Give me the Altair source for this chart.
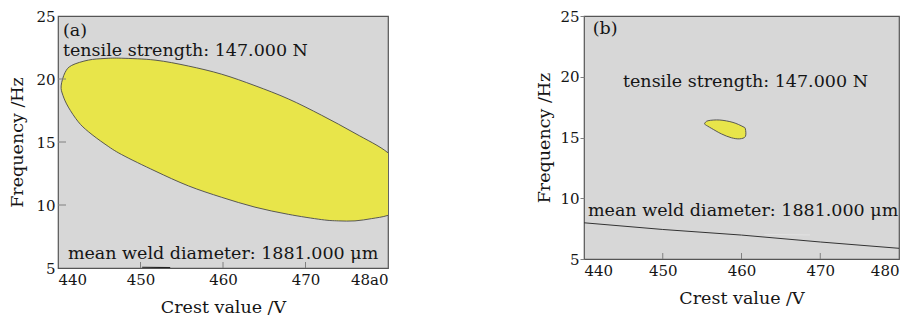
import altair as alt
import pandas as pd

# ---------------- data ----------------
x_ticks = [440, 450, 460, 470, 480]
y_ticks = [5, 10, 15, 20, 25]
x_labels_a = ["440", "450", "460", "470", "48a0"]
x_labels_b = ["440", "450", "460", "470", "480"]

# panel (a): outline of the feasible region, walked clockwise from the left tip
# (the last few points past 480 lie outside the frame and are clipped away)
a_poly_x = [440.38, 440.85, 441.66, 443.68, 445.70, 447.72, 451.76, 455.80, 459.84,
            463.88, 467.92, 471.96, 476.0, 480.0, 481.75, 482.4, 482.62, 482.15,
            480.0, 478.02, 476.0, 473.98, 471.96, 467.92, 463.88, 459.84, 455.80, 451.76,
            447.72, 445.70, 443.68, 442.46, 441.25, 440.6]
a_poly_y = [19.45, 20.51, 21.08, 21.50, 21.63, 21.65, 21.50, 21.03, 20.38,
            19.47, 18.42, 17.12, 15.69, 14.14, 12.53, 11.6, 10.95, 9.79,
            9.18, 8.92, 8.74, 8.74, 8.84, 9.26, 9.83, 10.61, 11.52, 12.70,
            14.00, 14.83, 15.82, 16.60, 17.77, 18.70]
# panel (a): short contour piece at the bottom edge
a_seg_x = [450.2, 453.6]
a_seg_y = [5.06, 5.04]

# panel (b): outline of the feasible region
b_poly_x = [455.33, 455.75, 457.23, 458.92, 460.19, 460.49, 460.49, 459.77, 458.71,
            457.44, 456.17, 455.40]
b_poly_y = [16.16, 16.38, 16.44, 16.24, 15.89, 15.71, 15.08, 14.89, 14.98,
            15.30, 15.76, 16.06]
# panel (b): mean weld diameter contour
b_line_x = [440, 450, 460, 470, 480]
b_line_y = [7.98, 7.43, 6.97, 6.40, 5.88]
b_faint_x = [462.9, 468.7]
b_faint_y = [7.02, 6.98]

# annotations
a_text = ["(a)", "tensile strength: 147.000 N", "mean weld diameter: 1881.000 \u03bcm"]
a_text_x = [440.6, 440.6, 441.2]
a_text_y = [23.4, 21.84, 5.74]
b_text = ["(b)", "tensile strength: 147.000 N", "mean weld diameter: 1881.000 \u03bcm"]
b_text_x = [441.1, 444.95, 440.5]
b_text_y = [23.5, 19.15, 8.58]

# ---------------- styling ----------------
FONT = "DejaVu Serif"
YELLOW = "#e8e54a"
BG = "#d7d7d7"
FRAME = "#555555"
TICK = "#808080"


def label_expr(labels):
    parts = " : ".join(f"datum.value == {v} ? '{l}'" for v, l in zip(x_ticks, labels))
    return parts + " : datum.label"


def panel(w, h, px, py, texts, tx, ty, xlabels, y_ticks_inside):
    xs = alt.Scale(domain=[440, 480], nice=False, zero=False)
    ys = alt.Scale(domain=[5, 25], nice=False, zero=False)
    xax = alt.Axis(values=x_ticks, labelExpr=label_expr(xlabels), ticks=False,
                   domain=False, grid=False, title="Crest value /V",
                   labelPadding=4, titlePadding=11)
    if y_ticks_inside:
        yax = alt.Axis(values=y_ticks, ticks=False, domain=False, grid=False,
                       title="Frequency /Hz", labelPadding=3, titlePadding=9)
    else:
        yax = alt.Axis(values=y_ticks, ticks=True, tickSize=4, tickColor=TICK,
                       domain=False, grid=False, title="Frequency /Hz",
                       labelPadding=1, titlePadding=6)

    reg = pd.DataFrame({"x": px, "y": py, "i": list(range(len(px)))})
    region = alt.Chart(reg).mark_line(
        filled=True, fill=YELLOW, stroke="#4a4a4a", strokeWidth=0.9,
        interpolate="cardinal-closed", clip=True
    ).encode(
        x=alt.X("x:Q", scale=xs, axis=xax),
        y=alt.Y("y:Q", scale=ys, axis=yax),
        order=alt.Order("i:Q"),
    )
    txt = alt.Chart(pd.DataFrame({"t": texts, "x": tx, "y": ty})).mark_text(
        align="left", baseline="alphabetic", font=FONT, fontSize=17.5, color="#151515"
    ).encode(x=alt.X("x:Q", scale=xs), y=alt.Y("y:Q", scale=ys), text="t:N")

    xt = alt.Chart(pd.DataFrame({"v": x_ticks[1:-1]})).mark_rule(
        color=TICK, strokeWidth=1).encode(
        x=alt.X("v:Q", scale=xs), y=alt.value(h), y2=alt.value(h - 6))
    layers = [region, txt, xt]
    if y_ticks_inside:
        yt = alt.Chart(pd.DataFrame({"v": y_ticks[1:-1]})).mark_rule(
            color=TICK, strokeWidth=1).encode(
            y=alt.Y("v:Q", scale=ys), x=alt.value(0), x2=alt.value(8))
        layers.append(yt)
    return layers, xs, ys


HA, HB = 252, 243
la, xsa, ysa = panel(330, HA, a_poly_x, a_poly_y, a_text, a_text_x, a_text_y,
                     x_labels_a, True)
seg_a = alt.Chart(pd.DataFrame({"x": a_seg_x, "y": a_seg_y})).mark_line(
    color="#222222", strokeWidth=1.2, clip=True).encode(
    x=alt.X("x:Q", scale=xsa), y=alt.Y("y:Q", scale=ysa))
chart_a = alt.layer(*(la + [seg_a])).properties(width=330, height=HA)

lb, xsb, ysb = panel(315, HB, b_poly_x, b_poly_y, b_text, b_text_x, b_text_y,
                     x_labels_b, False)
line_b = alt.Chart(pd.DataFrame({"x": b_line_x, "y": b_line_y})).mark_line(
    color="#333333", strokeWidth=1, clip=True).encode(
    x=alt.X("x:Q", scale=xsb), y=alt.Y("y:Q", scale=ysb))
faint_b = alt.Chart(pd.DataFrame({"x": b_faint_x, "y": b_faint_y})).mark_line(
    color="#e2e2e2", strokeWidth=1, clip=True).encode(
    x=alt.X("x:Q", scale=xsb), y=alt.Y("y:Q", scale=ysb))
chart_b = alt.layer(*(lb + [line_b, faint_b])).properties(width=315, height=HB)

chart = alt.hconcat(chart_a, chart_b, spacing=146).properties(
    padding={"left": 0, "top": 0, "right": 0, "bottom": 0},
    background="white",
).configure_view(
    fill=BG, stroke=FRAME, strokeWidth=1.2
).configure_axis(
    labelFont=FONT, labelFontSize=15, labelColor="#151515",
    titleFont=FONT, titleFontSize=17.5, titleColor="#151515", titleFontWeight="normal",
)

chart.save("out.html", embed_options={"renderer": "svg", "actions": False})
